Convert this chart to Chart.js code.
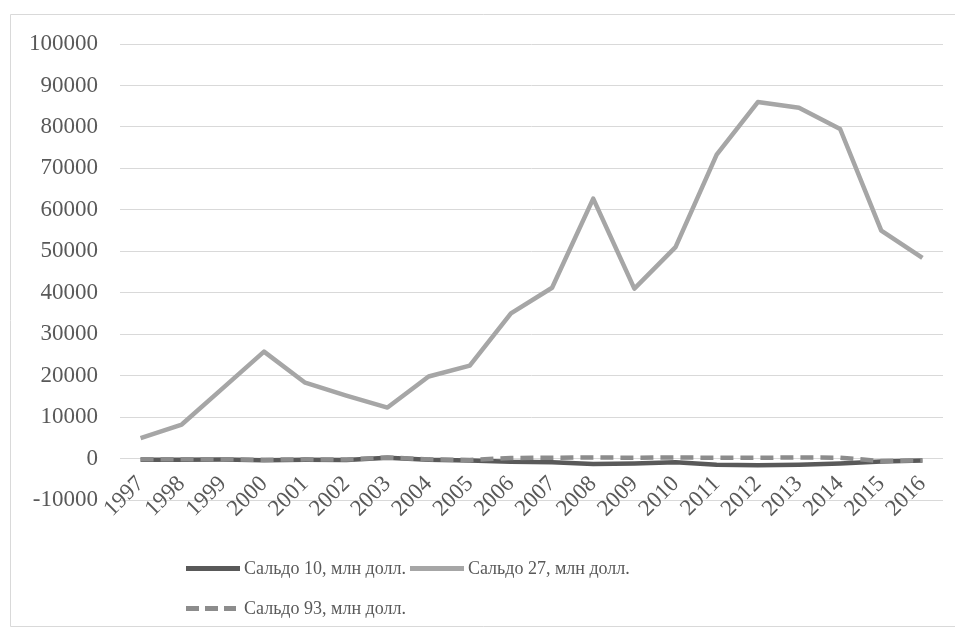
<!DOCTYPE html>
<html>
<head>
<meta charset="utf-8">
<script src="https://cdn.jsdelivr.net/npm/chart.js@4.4.0/dist/chart.umd.min.js"></script>
<style>
  body { margin: 0; background: #fff; }
  #wrap { position: relative; width: 955px; height: 633px; }
  #legend { position: absolute; left: 186px; top: 548px; width: 470px; display: flex; flex-wrap: wrap;
            font-family: "Liberation Serif", serif; font-size: 18px; color: #595959; }
  .item { display: flex; align-items: center; height: 40px; margin-right: 4px; }
  .swatch { width: 54px; height: 5px; margin-right: 4px; }
</style>
</head>
<body>
<div id="wrap">
  <canvas id="balanceChart" width="955" height="633"></canvas>
  <div id="legend"></div>
</div>
<script>
var years = ['1997','1998','1999','2000','2001','2002','2003','2004','2005','2006',
             '2007','2008','2009','2010','2011','2012','2013','2014','2015','2016'];

var saldo10 = [-300, -300, -250, -400, -300, -350, 200, -300, -450, -800,
               -900, -1300, -1200, -900, -1500, -1600, -1500, -1200, -700, -500];
var saldo27 = [4900, 8200, 17000, 25800, 18300, 15200, 12300, 19800, 22400, 35000,
               41200, 62700, 41000, 51000, 73300, 86000, 84600, 79500, 55000, 48400];
var saldo93 = [-200, -200, -150, -300, -200, -250, 250, -200, -350, 150,
               200, 250, 200, 250, 200, 200, 250, 200, -600, -450];

var seriesNames = ['Сальдо 10, млн долл.', 'Сальдо 27, млн долл.', 'Сальдо 93, млн долл.'];

var tickFont = { family: 'Liberation Serif', size: 23 };

// light frame around the whole chart, like the Excel chart area
var framePlugin = {
  id: 'frame',
  beforeDraw: function(chart) {
    var ctx = chart.ctx;
    ctx.save();
    ctx.strokeStyle = '#d9d9d9';
    ctx.lineWidth = 1;
    ctx.beginPath();
    ctx.moveTo(970, 14.5);
    ctx.lineTo(10.5, 14.5);
    ctx.lineTo(10.5, 626.5);
    ctx.lineTo(970, 626.5);
    ctx.stroke();
    ctx.restore();
  }
};

var balanceChart = new Chart(document.getElementById('balanceChart'), {
  type: 'line',
  data: {
    labels: years,
    datasets: [{
      label: seriesNames[0],
      data: saldo10,
      borderColor: '#595959',
      order: 1
    }, {
      label: seriesNames[1],
      data: saldo27,
      borderColor: '#a6a6a6',
      order: 2
    }, {
      label: seriesNames[2],
      data: saldo93,
      borderColor: '#8c8c8c',
      borderDash: [13, 7],
      order: 0
    }]
  },
  options: {
    responsive: false,
    animation: false,
    elements: {
      point: { radius: 0, hoverRadius: 0 },
      line: { borderWidth: 4.5, tension: 0, borderJoinStyle: 'round', fill: false }
    },
    layout: { padding: { top: 44, right: 12, bottom: 133, left: 0 } },
    plugins: {
      legend: { display: false },
      tooltip: { enabled: false }
    },
    scales: {
      x: {
        axis: 'x',
        type: 'category',
        offset: true,
        position: { y: 0 },
        grid: { display: false },
        border: { display: false },
        ticks: { autoSkip: false, minRotation: 45, maxRotation: 45, padding: 4, color: '#595959', font: tickFont }
      },
      y: {
        min: -10000,
        max: 100000,
        grid: { color: '#d9d9d9', drawTicks: false },
        border: { display: false },
        ticks: {
          stepSize: 10000,
          padding: 22,
          color: '#595959',
          font: tickFont,
          callback: function(v) { return String(v); }
        },
        afterFit: function(scale) { scale.width = 120; }
      }
    }
  },
  plugins: [framePlugin]
});

// html legend built from the chart datasets (two items per row like the original)
var legendEl = document.getElementById('legend');
balanceChart.data.datasets.forEach(function(ds) {
  var item = document.createElement('div');
  item.className = 'item';
  var sw = document.createElement('span');
  sw.className = 'swatch';
  if (ds.borderDash) {
    sw.style.background = 'repeating-linear-gradient(90deg, ' + ds.borderColor + ' 0 13px, transparent 13px 19px)';
    sw.style.width = '50px';
    sw.style.marginRight = '8px';
  } else {
    sw.style.background = ds.borderColor;
  }
  var txt = document.createElement('span');
  txt.textContent = ds.label;
  item.appendChild(sw);
  item.appendChild(txt);
  legendEl.appendChild(item);
});
</script>
</body>
</html>
